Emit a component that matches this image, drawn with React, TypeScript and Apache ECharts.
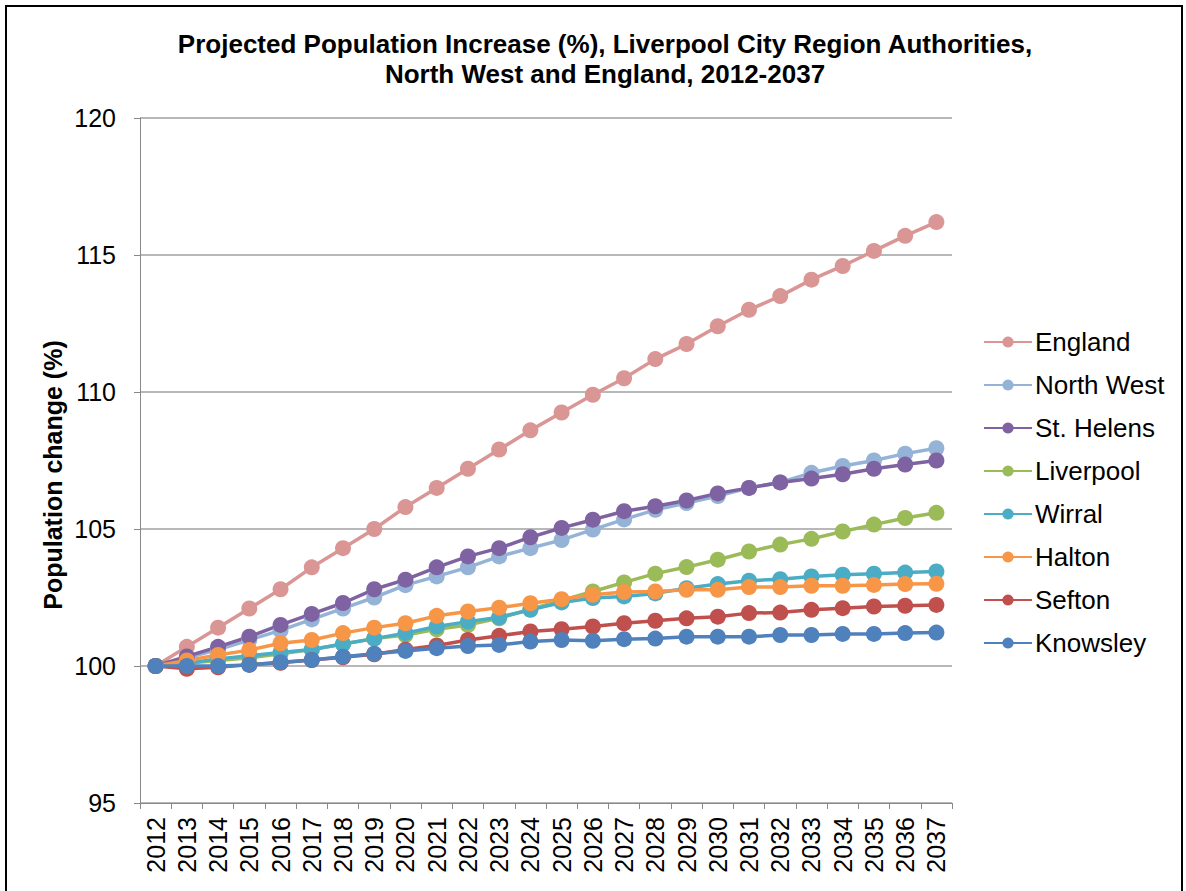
import React, { useEffect, useRef } from "react";
import * as echarts from "echarts";

const years = ["2012","2013","2014","2015","2016","2017","2018","2019","2020","2021","2022","2023","2024","2025","2026","2027","2028","2029","2030","2031","2032","2033","2034","2035","2036","2037"];

const england = [100, 100.7, 101.4, 102.1, 102.8, 103.6, 104.3, 105.0, 105.8, 106.5, 107.2, 107.9, 108.6, 109.25, 109.9, 110.5, 111.2, 111.75, 112.4, 113.0, 113.5, 114.1, 114.6, 115.15, 115.7, 116.2];
const northWest = [100, 100.3, 100.6, 100.95, 101.3, 101.7, 102.1, 102.5, 102.95, 103.27, 103.6, 104.0, 104.3, 104.6, 104.98, 105.35, 105.7, 105.95, 106.2, 106.5, 106.7, 107.05, 107.3, 107.5, 107.75, 107.95];
const stHelens = [100, 100.35, 100.7, 101.07, 101.5, 101.9, 102.3, 102.8, 103.15, 103.6, 104.0, 104.3, 104.7, 105.04, 105.34, 105.65, 105.83, 106.04, 106.3, 106.5, 106.7, 106.84, 107.0, 107.2, 107.35, 107.5];
const liverpool = [100, 100.1, 100.2, 100.3, 100.45, 100.6, 100.8, 101.0, 101.13, 101.34, 101.5, 101.74, 102.07, 102.39, 102.72, 103.05, 103.37, 103.61, 103.88, 104.18, 104.43, 104.64, 104.91, 105.16, 105.4, 105.59];
const wirral = [100, 100.1, 100.26, 100.37, 100.49, 100.6, 100.8, 101.0, 101.2, 101.44, 101.62, 101.78, 102.05, 102.32, 102.48, 102.54, 102.65, 102.84, 102.99, 103.11, 103.17, 103.27, 103.33, 103.37, 103.41, 103.45];
const halton = [100, 100.2, 100.4, 100.58, 100.83, 100.95, 101.2, 101.4, 101.56, 101.83, 101.99, 102.13, 102.29, 102.44, 102.6, 102.7, 102.72, 102.78, 102.78, 102.88, 102.88, 102.93, 102.93, 102.96, 102.99, 103.0];
const sefton = [100, 99.9, 99.95, 100.05, 100.12, 100.22, 100.32, 100.43, 100.6, 100.75, 100.95, 101.1, 101.26, 101.34, 101.44, 101.56, 101.65, 101.74, 101.8, 101.93, 101.95, 102.05, 102.11, 102.17, 102.2, 102.23];
const knowsley = [100, 100.0, 100.0, 100.04, 100.14, 100.22, 100.34, 100.45, 100.55, 100.65, 100.73, 100.77, 100.89, 100.95, 100.92, 100.98, 101.0, 101.07, 101.07, 101.07, 101.13, 101.13, 101.17, 101.17, 101.2, 101.22];

const yTicks = [95, 100, 105, 110, 115, 120];

const seriesNames = ["England", "North West", "St. Helens", "Liverpool", "Wirral", "Halton", "Sefton", "Knowsley"];
const seriesData = [england, northWest, stHelens, liverpool, wirral, halton, sefton, knowsley];
const seriesColors = ["#D99694", "#95B3D7", "#7F62A1", "#9BBB59", "#4BACC6", "#F79646", "#C0504D", "#4F81BD"];

export default function App() {
  const ref = useRef<HTMLDivElement>(null);
  useEffect(() => {
    if (!ref.current) return;
    const chart = echarts.init(ref.current, undefined, { renderer: "svg" });
    const font = "Arial, 'Liberation Sans', sans-serif";
    chart.setOption({
      animation: false,
      backgroundColor: "#ffffff",
      textStyle: { fontFamily: font },
      title: {
        text: "Projected Population Increase (%), Liverpool City Region Authorities,\nNorth West and England, 2012-2037",
        left: 600,
        top: 24,
        textAlign: "center",
        textStyle: { fontFamily: font, fontSize: 26, fontWeight: "bold", color: "#000", lineHeight: 30 },
      },
      graphic: [
        { type: "rect", shape: { x: 6, y: 6, width: 1176, height: 892 }, style: { fill: "none", stroke: "#000", lineWidth: 2 }, silent: true },
        {
          type: "text",
          x: 53,
          y: 475,
          rotation: Math.PI / 2,
          style: { text: "Population change (%)", fontFamily: font, fontSize: 25, fontWeight: "bold", fill: "#000", align: "center", verticalAlign: "middle" },
          silent: true,
        },
      ],
      legend: {
        orient: "vertical",
        left: 978,
        top: 324,
        itemGap: 17,
        itemWidth: 48,
        itemHeight: 14,
        data: seriesNames,
        textStyle: { fontFamily: font, fontSize: 26, color: "#000", padding: [0, 0, 0, -2] },
      },
      grid: { left: 140, right: 234, top: 118, bottom: 88, containLabel: false },
      xAxis: {
        type: "category",
        data: years,
        boundaryGap: true,
        axisLine: { lineStyle: { color: "#888", width: 1 } },
        axisTick: { show: true, alignWithLabel: false, length: 6, lineStyle: { color: "#888" } },
        axisLabel: { rotate: 90, fontSize: 25, color: "#000", margin: 14, interval: 0, fontFamily: font },
      },
      yAxis: {
        type: "value",
        min: 95,
        max: 120,
        interval: 5,
        axisLine: { show: true, lineStyle: { color: "#888" } },
        axisTick: { show: true, length: 6, lineStyle: { color: "#888" } },
        axisLabel: { fontSize: 25, color: "#000", margin: 24, fontFamily: font, formatter: (v: number) => (yTicks.includes(v) ? String(v) : "") },
        splitLine: { lineStyle: { color: "#a0a0a0", width: 1.5 } },
      },
      series: seriesNames.map((name, i) => ({
        name,
        type: "line",
        data: seriesData[i],
        symbol: "circle",
        symbolSize: 16,
        lineStyle: { width: 3.5, color: seriesColors[i] },
        itemStyle: { color: seriesColors[i] },
      })),
    });
    return () => chart.dispose();
  }, []);
  return <div ref={ref} style={{ position: "absolute", left: 0, top: 0, width: 1186, height: 891 }} />;
}
